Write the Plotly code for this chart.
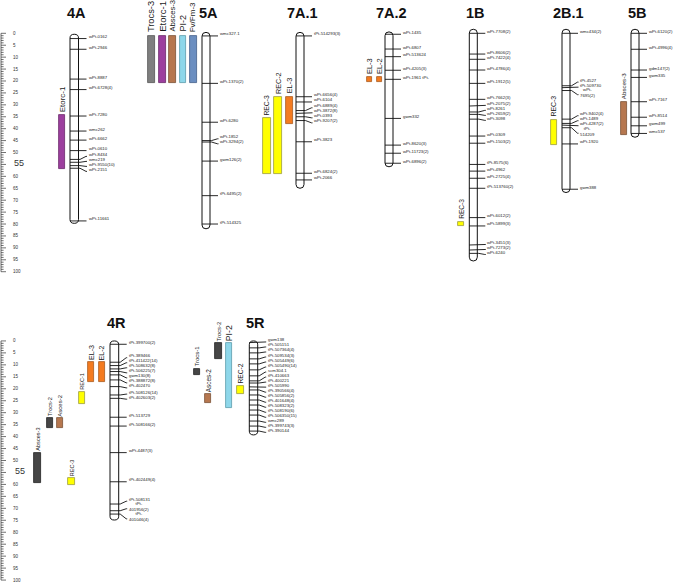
import plotly.graph_objects as go

# ================= DATA =================
scale_major = list(range(0, 101, 5))
scale_minor = list(range(0, 101, 1))

# ---- top panel linkage groups (names, positions in cM, span) ----
m4A = ["wPt-0162", "wPt-2946", "wPt-8887", "wPt-6728(4)", "wPt-7280", "wmc262", "wPt-6662",
       "wPt-0610", "wPt-8434", "wmc219", "wPt-9550(10)", "wPt-2151", "wPt-11661"]
p4A = [2.2, 6.7, 19.2, 23.6, 34.7, 41.0, 44.8, 49.2, 52.9, 54.1, 55.5, 56.6, 78.7]
s4A = [0.4, 79.7]

m5A = ["wmc327.1", "wPt-1370(2)", "wPt-6280", "wPt-1852", "wPt-3294(2)", "gwm126(2)",
       "tPt-6495(2)", "tPt-514325"]
p5A = [1.1, 21.0, 37.3, 45.0, 45.6, 53.6, 68.1, 80.0]
s5A = [-0.4, 82.0]

m7A1 = ["tPt-514293(3)", "wPt-6656(4)", "wPt-6104", "wPt-6889(4)", "wPt-3872(8)", "wPt-0393",
        "wPt-9207(2)", "wPt-3823", "wPt-6824(2)", "wPt-2066"]
p7A1 = [1.1, 26.6, 28.8, 32.4, 33.6, 35.0, 36.6, 45.5, 58.7, 61.5]
s7A1 = [-0.4, 65.0]

m7A2 = ["wPt-1435", "wPt-6807", "wPt-513624", "wPt-4205(3)", "wPt-1961 tPt-", "gwm332",
        "wPt-8620(3)", "wPt-11723(2)", "wPt-6896(2)"]
p7A2 = [0.4, 6.6, 9.8, 15.5, 19.3, 35.7, 46.9, 50.3, 54.5]
s7A2 = [-0.6, 56.0]

m1B = ["wPt-7708(2)", "wPt-8606(2)", "wPt-7422(4)", "wPt-4786(4)", "wPt-1912(5)", "wPt-7662(3)",
       "wPt-2075(2)", "wPt-8261", "wPt-2659(2)", "wPt-3098", "wPt-0309", "wPt-1503(2)",
       "tPt-8575(6)", "wPt-4962", "wPt-2725(4)", "tPt-513760(2)", "wPt-6012(2)", "wPt-5899(3)",
       "wPt-3451(3)", "wPt-7273(2)", "wPt-6240"]
p1B = [0.0, 8.7, 10.9, 15.4, 21.0, 27.7, 30.5, 33.0, 34.0, 36.0, 43.1, 46.1, 55.0, 57.8,
       60.8, 65.0, 77.3, 80.8, 88.8, 90.9, 92.3]
s1B = [-1.7, 95.5]

m2B1 = ["wmc434(2)", "tPt-4527", "tPt-509730", "wPt-<br>7695(2)", "wPt-9402(4)", "wPt-1489",
        "wPt-4287(2)", "tPt-<br>514209", "wPt-1920", "gwm388"]
p2B1 = [0.0, 22.0, 22.8, 24.0, 36.0, 37.8, 38.5, 39.6, 46.4, 65.4]
s2B1 = [-1.7, 66.8]

m5B = ["wPt-6120(2)", "wPt-4996(4)", "gdm147(2)", "gwm335", "wPt-7167", "wPt-8514",
       "gwm499", "wmc537"]
p5B = [0.0, 6.7, 15.4, 18.5, 28.7, 35.2, 38.8, 42.0]
s5B = [-1.7, 43.6]

# ---- bottom panel linkage groups ----
m4R = ["tPt-399700(2)", "tPt-389466", "tPt-411422(14)", "tPt-508632(8)", "tPt-506225(7)",
       "gwm130(8)", "tPt-388872(8)", "tPt-402470", "tPt-508126(14)", "tPt-402603(2)",
       "tPt-513729", "tPt-508166(2)", "wPt-4487(3)", "tPt-402449(4)", "tPt-508131",
       "tPt-<br>401956(2)", "tPt-<br>401046(4)"]
p4R = [1.4, 8.9, 10.3, 11.7, 12.8, 14.2, 16.3, 19.1, 22.6, 24.0, 31.9, 35.6, 46.7, 58.9,
       68.2, 71.0, 72.4]
s4R = [0.0, 74.9]

m5R = ["gwm138", "tPt-505151", "tPt-507364(4)", "tPt-509534(3)", "tPt-505449(6)",
       "tPt-505490(14)", "scm304.1", "tPt-410663", "tPt-400221", "tPt-505990",
       "tPt-390566(4)", "tPt-505856(2)", "tPt-401648(4)", "tPt-508323(2)", "tPt-508190(6)",
       "tPt-506350(15)", "wmc289", "tPt-399743(3)", "tPt-390144"]
p5R = [0.7, 2.9, 5.0, 7.5, 9.6, 12.1, 14.6, 16.7, 17.6, 19.2, 20.5, 22.6, 24.7, 26.8,
       28.9, 31.0, 33.5, 35.6, 37.7]
s5R = [0.0, 39.3]

# ---- QTL intervals ----
qtl_top_names = ["Etorc-1", "Trocs-3", "Etorc-1", "Absces-3", "PI-2", "Fv/Fm-3", "REC-3",
                 "REC-2", "EL-3", "EL-3", "EL-2", "REC-3", "REC-3", "Absces-3"]
qtl_top_start = [34.4, 1.1, 1.1, 1.1, 1.1, 1.1, 35.7, 26.6, 26.6, 18.5, 18.5, 79.0, 36.4, 29.0]
qtl_top_end = [56.9, 21.0, 21.0, 21.0, 21.0, 21.0, 59.0, 59.0, 38.0, 20.4, 20.4, 81.0, 46.9, 42.7]
qtl_top_kind = ["purple", "grey", "purple", "brown", "lblue", "sblue", "yellow", "yellow",
                "orange", "orange", "orange", "yellow", "yellow", "brown"]

qtl_bot_names = ["Absces-3", "Trocs-2", "Asces-2", "REC-3", "REC-1", "EL-3", "EL-2",
                 "Trocs-1", "Asces-2", "Trocs-2", "PI-2", "REC-2"]
qtl_bot_start = [46.7, 32.4, 32.4, 57.4, 21.5, 8.9, 8.9, 11.7, 22.2, 1.0, 1.0, 18.8]
qtl_bot_end = [59.3, 36.3, 36.3, 60.3, 26.4, 17.3, 17.3, 14.2, 25.8, 7.5, 28.2, 22.2]
qtl_bot_kind = ["dgrey", "dgrey", "brown", "yellow", "yellow", "orange", "orange",
                "dgrey", "brown", "dgrey", "lblue", "yellow"]

# ================= LAYOUT / STYLE =================
W, H = 676, 587
SPLIT = 290  # pixel row separating panels
TOP_RANGE = [107.67, -13.97]
BOT_RANGE = [102.9, -21.3]

COLORS = {"purple": "#9C3F9E", "grey": "#7F7F7F", "brown": "#B6774F", "lblue": "#8ED7EA",
          "sblue": "#6B8EC0", "yellow": "#FFFF00", "orange": "#F47B20", "dgrey": "#464646"}
EDGE = {"purple": "#6A2A6A", "grey": "#555555", "brown": "#7A5035", "lblue": "#5A9AAA",
        "sblue": "#44608A", "yellow": "#9A9A40", "orange": "#A85A20", "dgrey": "#222222"}

top_groups = [("4A", m4A, p4A, s4A, 70.0, 78.5),
              ("5A", m5A, p5A, s5A, 202.0, 210.0),
              ("7A.1", m7A1, p7A1, s7A1, 296.0, 304.0),
              ("7A.2", m7A2, p7A2, s7A2, 385.0, 393.0),
              ("1B", m1B, p1B, s1B, 469.3, 477.3),
              ("2B.1", m2B1, p2B1, s2B1, 562.0, 570.0),
              ("5B", m5B, p5B, s5B, 631.0, 639.0)]
bot_groups = [("4R", m4R, p4R, s4R, 110.0, 118.7),
              ("5R", m5R, p5R, s5R, 249.3, 257.7)]

qtl_top_x = [(58.7, 65.3), (148.3, 155.0), (159.0, 165.7), (169.3, 176.0), (179.7, 186.3),
             (190.0, 196.7), (262.7, 270.7), (274.3, 282.3), (286.0, 293.3), (367.3, 372.0),
             (377.3, 382.0), (458.3, 464.0), (550.7, 557.3), (620.7, 626.7)]
qtl_bot_x = [(34.3, 41.0), (47.0, 53.0), (57.3, 63.3), (68.3, 75.0), (79.0, 85.0),
             (88.3, 94.3), (98.7, 104.7), (194.3, 200.0), (205.3, 211.0), (215.3, 221.7),
             (226.0, 231.7), (237.3, 244.0)]
qtl_top_font = [8, 9.3, 9.6, 7.6, 9, 8, 6.8, 7.2, 7.4, 7.5, 7.5, 6.6, 6.9, 6.2]
qtl_top_shift = [2, 3, 3, 3, 3, 3, 2, 2, 2, 2, 2, 2, 2, 2]
qtl_bot_font = [5.6, 5.6, 6, 5.6, 5.6, 7.1, 7.1, 6, 6.4, 5.8, 8.7, 6.7]

FONT = "Liberation Sans, Arial, sans-serif"
LABEL_SIZE = 4.3
GAP_CM = 2.1


def spread(pos, heights):
    cl = [{"idx": [i], "top": p - heights[i] / 2} for i, p in enumerate(pos)]

    def csize(idx):
        return sum(heights[i] for i in idx)

    merged = True
    while merged:
        merged = False
        out = [cl[0]]
        for c in cl[1:]:
            prev = out[-1]
            if prev["top"] + csize(prev["idx"]) > c["top"] + 1e-9:
                idx = prev["idx"] + c["idx"]
                offs, acc = [], 0.0
                for i in idx:
                    offs.append(acc + heights[i] / 2)
                    acc += heights[i]
                top = sum(pos[i] - o for i, o in zip(idx, offs)) / len(idx)
                out[-1] = {"idx": idx, "top": top}
                merged = True
            else:
                out.append(c)
        cl = out
    lpos = [0.0] * len(pos)
    for c in cl:
        acc = c["top"]
        for i in c["idx"]:
            lpos[i] = acc + heights[i] / 2
            acc += heights[i]
    return lpos


def pill(x0, x1, y0, y1, r=1.6):
    xc = (x0 + x1) / 2
    return (f"M {x0},{y0 + r} Q {x0},{y0} {xc},{y0} Q {x1},{y0} {x1},{y0 + r} "
            f"L {x1},{y1 - r} Q {x1},{y1} {xc},{y1} Q {x0},{y1} {x0},{y1 - r} Z")


fig = go.Figure()
shapes = []
annotations = []


def build_panel(groups, qnames, qstart, qend, qkind, qx, qfont, qshift, xref, yref,
                title_y, ruler_lx):
    xs, ys = [], []
    for (name, markers, pos, span, x0, x1) in groups:
        shapes.append(dict(type="path", path=pill(x0, x1, span[0], span[1]), xref=xref, yref=yref,
                           line=dict(color="#111111", width=1), fillcolor="white", layer="below"))
        heights = [GAP_CM * (mk.count("<br>") + 1) for mk in markers]
        lpos = spread(pos, heights)
        for mk, p, lp in zip(markers, pos, lpos):
            if abs(lp - p) < 1e-6:
                xs += [x0, x1 + 8, None]
                ys += [p, p, None]
            else:
                xs += [x0, x1 + 1.5, x1 + 7.5, x1 + 8.5, None]
                ys += [p, p, lp, lp, None]
            annotations.append(dict(x=x1 + 9.0, y=lp, xref=xref, yref=yref, text=mk,
                                    showarrow=False, xanchor="left", yanchor="middle", yshift=2,
                                    borderpad=0,
                                    font=dict(size=LABEL_SIZE, color="#222222", family=FONT)))
        annotations.append(dict(x=(x0 + x1) / 2 + 2, y=title_y, xref=xref, yref=yref,
                                text="<b>" + name + "</b>", showarrow=False,
                                xanchor="center", yanchor="middle",
                                font=dict(size=14.5, color="#111111", family=FONT)))
    fig.add_trace(go.Scatter(x=xs, y=ys, mode="lines", xaxis=xref, yaxis=yref,
                             line=dict(color="#111111", width=0.9), hoverinfo="skip",
                             showlegend=False))
    # QTL bars
    fig.add_trace(go.Bar(x=[(a + b) / 2 for a, b in qx], width=[b - a for a, b in qx],
                         base=qstart, y=[e - s for s, e in zip(qstart, qend)],
                         xaxis=xref, yaxis=yref,
                         marker=dict(color=[COLORS[k] for k in qkind],
                                     line=dict(color=[EDGE[k] for k in qkind], width=0.8)),
                         hoverinfo="skip", showlegend=False))
    for nm, s, (a, b), fs, sh in zip(qnames, qstart, qx, qfont, qshift):
        annotations.append(dict(x=(a + b) / 2, y=s, xref=xref, yref=yref, text=nm,
                                showarrow=False, textangle=-90, xanchor="center",
                                yanchor="bottom", yshift=sh, borderpad=0,
                                font=dict(size=fs, color="#1a1a1a", family=FONT)))
    # ruler
    rx, ry = [1, 1, None], [0, 100, None]
    for v in scale_minor:
        rx += [1, 1 + (5 if v % 5 == 0 else 2.6), None]
        ry += [v, v, None]
    fig.add_trace(go.Scatter(x=rx, y=ry, mode="lines", xaxis=xref, yaxis=yref,
                             line=dict(color="#333333", width=0.7), hoverinfo="skip",
                             showlegend=False))
    for v in scale_major:
        big = (v == 55)
        annotations.append(dict(x=ruler_lx + (1.5 if big else 0), y=v - (0.6 if big else 0),
                                xref=xref, yref=yref, text=str(v),
                                showarrow=False, xanchor="left", yanchor="middle",
                                font=dict(size=9 if big else 4.5, color="#333333", family=FONT)))


build_panel(top_groups, qtl_top_names, qtl_top_start, qtl_top_end, qtl_top_kind, qtl_top_x,
            qtl_top_font, qtl_top_shift, "x", "y", -8.6, 10.5)
build_panel(bot_groups, qtl_bot_names, qtl_bot_start, qtl_bot_end, qtl_bot_kind, qtl_bot_x,
            qtl_bot_font, [1] * len(qtl_bot_names), "x2", "y2", -7.3, 11.0)

split_frac = 1 - SPLIT / H
ax = dict(range=[0, W], visible=False, fixedrange=True)
fig.update_layout(
    width=W, height=H, autosize=False,
    margin=dict(l=0, r=0, t=0, b=0),
    paper_bgcolor="white", plot_bgcolor="white",
    barmode="overlay", bargap=0,
    xaxis=dict(domain=[0, 1], anchor="y", **ax),
    xaxis2=dict(domain=[0, 1], anchor="y2", **ax),
    yaxis=dict(domain=[split_frac, 1], range=TOP_RANGE, visible=False, anchor="x"),
    yaxis2=dict(domain=[0, split_frac], range=BOT_RANGE, visible=False, anchor="x2"),
    shapes=shapes, annotations=annotations,
)
fig.write_html("out.html", config={"displayModeBar": False},
               post_script="document.body.style.margin='0';document.body.style.overflow='hidden';")
